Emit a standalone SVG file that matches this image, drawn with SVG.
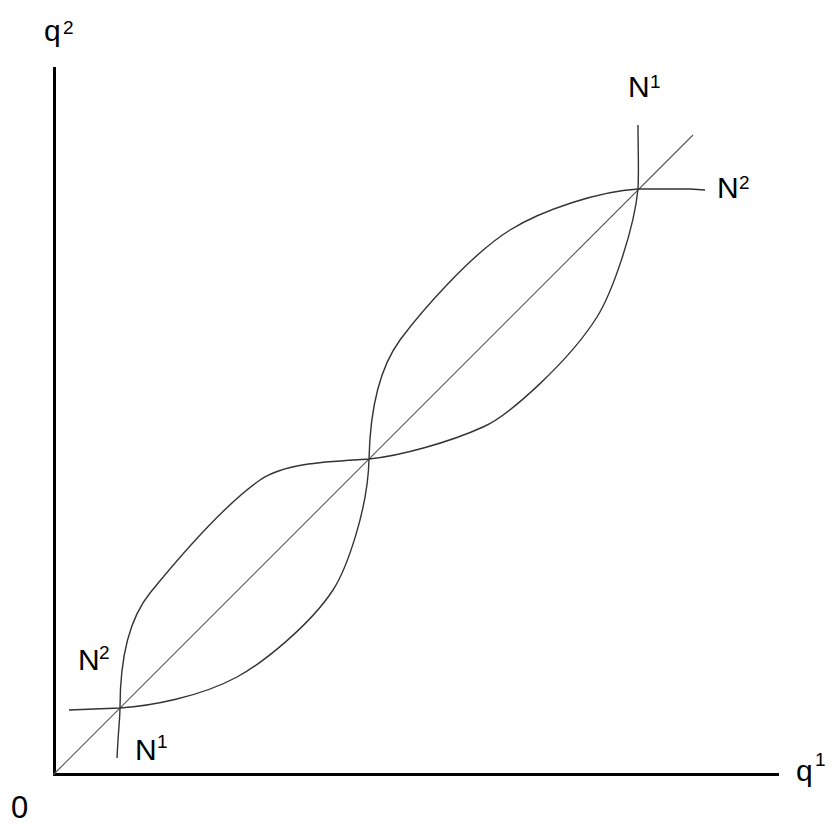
<svg xmlns="http://www.w3.org/2000/svg" width="832" height="824" viewBox="0 0 832 824">
<style>
.axis{stroke:#000;stroke-width:3;fill:none;stroke-linecap:butt}
.curve{stroke:#333;stroke-width:1.4;fill:none;stroke-linejoin:round}
.diag{stroke:#555;stroke-width:1.1;fill:none}
.lbl{font-family:"Liberation Sans",Arial,sans-serif;font-size:30px;fill:#000}
.sup{font-family:"Liberation Sans",Arial,sans-serif;font-size:19px;fill:#000}
</style>
<rect width="832" height="824" fill="#fff"/>
<g id="axes">
<path class="axis" d="M54.5,67 L54.5,776 M53,774.5 L779,774.5"/>
</g>
<g id="diagonal">
<path class="diag" d="M53,775 L693,135"/>
</g>
<g id="connectors">
<path id="N1" class="curve" d="M117,758 L118,740 C119,725 120,715 120,708 C120,675 124,625 150,593 C172,566 220,508 260,480 C285,462.5 330,461.5 369,459 C400,456 450,442 483,427 C510,415 570,360 597,317 C612,293 634,230 638,189 C639,170 638,150 638,125"/>
<path id="N2" class="curve" d="M69,710 L120,708 C150,706 200,697 237,677 C263,663 310,625 333,590 C346,570 368,510 369,459 C370,415 378,370 400,340 C420,313 470,255 510,230 C542,210 600,191 638,189 L690,189 L705,190"/>
</g>
<g id="labels">
<text class="lbl" x="44" y="41">q</text><text class="sup" x="63" y="34">2</text>
<text class="lbl" x="796" y="781">q</text><text class="sup" x="815" y="766">1</text>
<text class="lbl" x="11" y="818" style="font-size:31px">0</text>
<text class="lbl" x="628" y="97">N</text><text class="sup" x="650" y="88">1</text>
<text class="lbl" x="717" y="198">N</text><text class="sup" x="739" y="189">2</text>
<text class="lbl" x="78" y="670">N</text><text class="sup" x="99" y="659">2</text>
<text class="lbl" x="135" y="760">N</text><text class="sup" x="157" y="748">1</text>
</g>
</svg>
